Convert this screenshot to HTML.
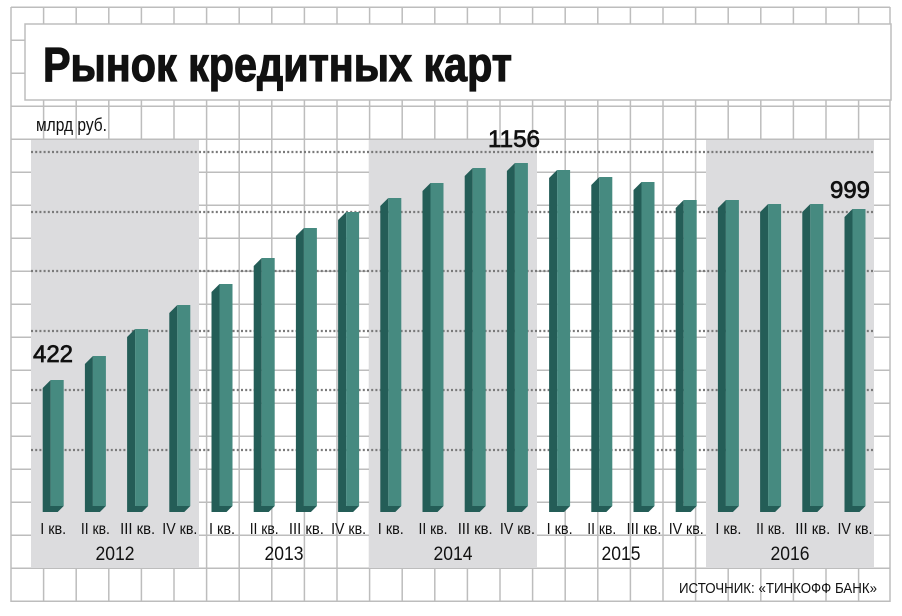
<!DOCTYPE html>
<html><head><meta charset="utf-8"><style>
html,body{margin:0;padding:0;background:#fff;}
svg{display:block;}
text{font-family:"Liberation Sans",sans-serif;fill:#111;}
.s{fill:#245d57}.f{fill:#468a80}
</style></head><body>
<svg width="902" height="616" viewBox="0 0 902 616" xmlns="http://www.w3.org/2000/svg">
<rect width="902" height="616" fill="#fff"/>
<g stroke="#bdbdbd" stroke-width="1.5">
<line x1="11" y1="7" x2="11" y2="602"/><line x1="43.6" y1="7" x2="43.6" y2="602"/><line x1="76.2" y1="7" x2="76.2" y2="602"/><line x1="108.8" y1="7" x2="108.8" y2="602"/><line x1="141.4" y1="7" x2="141.4" y2="602"/><line x1="174" y1="7" x2="174" y2="602"/><line x1="206.6" y1="7" x2="206.6" y2="602"/><line x1="239.2" y1="7" x2="239.2" y2="602"/><line x1="271.8" y1="7" x2="271.8" y2="602"/><line x1="304.4" y1="7" x2="304.4" y2="602"/><line x1="337" y1="7" x2="337" y2="602"/><line x1="369.6" y1="7" x2="369.6" y2="602"/><line x1="402.2" y1="7" x2="402.2" y2="602"/><line x1="434.8" y1="7" x2="434.8" y2="602"/><line x1="467.4" y1="7" x2="467.4" y2="602"/><line x1="500" y1="7" x2="500" y2="602"/><line x1="532.6" y1="7" x2="532.6" y2="602"/><line x1="565.2" y1="7" x2="565.2" y2="602"/><line x1="597.8" y1="7" x2="597.8" y2="602"/><line x1="630.4" y1="7" x2="630.4" y2="602"/><line x1="663" y1="7" x2="663" y2="602"/><line x1="695.6" y1="7" x2="695.6" y2="602"/><line x1="728.2" y1="7" x2="728.2" y2="602"/><line x1="760.8" y1="7" x2="760.8" y2="602"/><line x1="793.4" y1="7" x2="793.4" y2="602"/><line x1="826" y1="7" x2="826" y2="602"/><line x1="858.6" y1="7" x2="858.6" y2="602"/><line x1="890" y1="7" x2="890" y2="602"/>
<line x1="11" y1="7.3" x2="890" y2="7.3"/><line x1="11" y1="40.3" x2="890" y2="40.3"/><line x1="11" y1="73.3" x2="890" y2="73.3"/><line x1="11" y1="106.3" x2="890" y2="106.3"/><line x1="11" y1="139.3" x2="890" y2="139.3"/><line x1="11" y1="172.3" x2="890" y2="172.3"/><line x1="11" y1="205.3" x2="890" y2="205.3"/><line x1="11" y1="238.3" x2="890" y2="238.3"/><line x1="11" y1="271.3" x2="890" y2="271.3"/><line x1="11" y1="304.3" x2="890" y2="304.3"/><line x1="11" y1="337.3" x2="890" y2="337.3"/><line x1="11" y1="370.3" x2="890" y2="370.3"/><line x1="11" y1="403.3" x2="890" y2="403.3"/><line x1="11" y1="436.3" x2="890" y2="436.3"/><line x1="11" y1="469.3" x2="890" y2="469.3"/><line x1="11" y1="502.3" x2="890" y2="502.3"/><line x1="11" y1="535.3" x2="890" y2="535.3"/><line x1="11" y1="568.3" x2="890" y2="568.3"/><line x1="11" y1="601.3" x2="890" y2="601.3"/>
</g>
<rect x="25" y="24" width="866" height="76" fill="#fff" stroke="#bdbdbd" stroke-width="1.5"/>
<text x="43" y="81" font-size="48" font-weight="bold" stroke="#111" stroke-width="1.2" textLength="469" lengthAdjust="spacingAndGlyphs">Рынок кредитных карт</text>
<rect x="31" y="140" width="168" height="428" fill="#dcdcde"/>
<rect x="369" y="140" width="168" height="428" fill="#dcdcde"/>
<rect x="706" y="140" width="168" height="428" fill="#dcdcde"/>
<text x="36" y="131" font-size="18" textLength="71" lengthAdjust="spacingAndGlyphs">млрд руб.</text>
<g stroke="#7a7a7a" stroke-width="2.2" stroke-dasharray="2,2.2">
<line x1="31" y1="152" x2="874" y2="152"/><line x1="31" y1="212" x2="874" y2="212"/><line x1="31" y1="271" x2="874" y2="271"/><line x1="31" y1="331" x2="874" y2="331"/><line x1="31" y1="390" x2="874" y2="390"/><line x1="31" y1="450" x2="874" y2="450"/>
</g>
<g transform="translate(42.7,0)"><polygon class="s" points="0,388 8,380 8,506 21,506 15,512 0,512"/><rect class="f" x="8" y="380" width="13" height="126"/></g>
<g transform="translate(84.9,0)"><polygon class="s" points="0,364 8,356 8,506 21,506 15,512 0,512"/><rect class="f" x="8" y="356" width="13" height="150"/></g>
<g transform="translate(127.1,0)"><polygon class="s" points="0,337 8,329 8,506 21,506 15,512 0,512"/><rect class="f" x="8" y="329" width="13" height="177"/></g>
<g transform="translate(169.3,0)"><polygon class="s" points="0,313 8,305 8,506 21,506 15,512 0,512"/><rect class="f" x="8" y="305" width="13" height="201"/></g>
<g transform="translate(211.5,0)"><polygon class="s" points="0,292 8,284 8,506 21,506 15,512 0,512"/><rect class="f" x="8" y="284" width="13" height="222"/></g>
<g transform="translate(253.7,0)"><polygon class="s" points="0,266 8,258 8,506 21,506 15,512 0,512"/><rect class="f" x="8" y="258" width="13" height="248"/></g>
<g transform="translate(295.9,0)"><polygon class="s" points="0,236 8,228 8,506 21,506 15,512 0,512"/><rect class="f" x="8" y="228" width="13" height="278"/></g>
<g transform="translate(338.1,0)"><polygon class="s" points="0,220 8,212 8,506 21,506 15,512 0,512"/><rect class="f" x="8" y="212" width="13" height="294"/></g>
<g transform="translate(380.3,0)"><polygon class="s" points="0,206 8,198 8,506 21,506 15,512 0,512"/><rect class="f" x="8" y="198" width="13" height="308"/></g>
<g transform="translate(422.5,0)"><polygon class="s" points="0,191 8,183 8,506 21,506 15,512 0,512"/><rect class="f" x="8" y="183" width="13" height="323"/></g>
<g transform="translate(464.7,0)"><polygon class="s" points="0,176 8,168 8,506 21,506 15,512 0,512"/><rect class="f" x="8" y="168" width="13" height="338"/></g>
<g transform="translate(506.9,0)"><polygon class="s" points="0,171 8,163 8,506 21,506 15,512 0,512"/><rect class="f" x="8" y="163" width="13" height="343"/></g>
<g transform="translate(549.1,0)"><polygon class="s" points="0,178 8,170 8,506 21,506 15,512 0,512"/><rect class="f" x="8" y="170" width="13" height="336"/></g>
<g transform="translate(591.3,0)"><polygon class="s" points="0,185 8,177 8,506 21,506 15,512 0,512"/><rect class="f" x="8" y="177" width="13" height="329"/></g>
<g transform="translate(633.5,0)"><polygon class="s" points="0,190 8,182 8,506 21,506 15,512 0,512"/><rect class="f" x="8" y="182" width="13" height="324"/></g>
<g transform="translate(675.7,0)"><polygon class="s" points="0,208 8,200 8,506 21,506 15,512 0,512"/><rect class="f" x="8" y="200" width="13" height="306"/></g>
<g transform="translate(717.9,0)"><polygon class="s" points="0,208 8,200 8,506 21,506 15,512 0,512"/><rect class="f" x="8" y="200" width="13" height="306"/></g>
<g transform="translate(760.1,0)"><polygon class="s" points="0,212 8,204 8,506 21,506 15,512 0,512"/><rect class="f" x="8" y="204" width="13" height="302"/></g>
<g transform="translate(802.3,0)"><polygon class="s" points="0,212 8,204 8,506 21,506 15,512 0,512"/><rect class="f" x="8" y="204" width="13" height="302"/></g>
<g transform="translate(844.5,0)"><polygon class="s" points="0,217 8,209 8,506 21,506 15,512 0,512"/><rect class="f" x="8" y="209" width="13" height="297"/></g>
<g font-size="15.5" text-anchor="middle">
<text x="53.2" y="534" textLength="26" lengthAdjust="spacingAndGlyphs">I кв.</text>
<text x="95.4" y="534" textLength="29" lengthAdjust="spacingAndGlyphs">II кв.</text>
<text x="137.6" y="534" textLength="35" lengthAdjust="spacingAndGlyphs">III кв.</text>
<text x="179.8" y="534" textLength="35" lengthAdjust="spacingAndGlyphs">IV кв.</text>
<text x="222" y="534" textLength="26" lengthAdjust="spacingAndGlyphs">I кв.</text>
<text x="264.2" y="534" textLength="29" lengthAdjust="spacingAndGlyphs">II кв.</text>
<text x="306.4" y="534" textLength="35" lengthAdjust="spacingAndGlyphs">III кв.</text>
<text x="348.6" y="534" textLength="35" lengthAdjust="spacingAndGlyphs">IV кв.</text>
<text x="390.8" y="534" textLength="26" lengthAdjust="spacingAndGlyphs">I кв.</text>
<text x="433" y="534" textLength="29" lengthAdjust="spacingAndGlyphs">II кв.</text>
<text x="475.2" y="534" textLength="35" lengthAdjust="spacingAndGlyphs">III кв.</text>
<text x="517.4" y="534" textLength="35" lengthAdjust="spacingAndGlyphs">IV кв.</text>
<text x="559.6" y="534" textLength="26" lengthAdjust="spacingAndGlyphs">I кв.</text>
<text x="601.8" y="534" textLength="29" lengthAdjust="spacingAndGlyphs">II кв.</text>
<text x="644" y="534" textLength="35" lengthAdjust="spacingAndGlyphs">III кв.</text>
<text x="686.2" y="534" textLength="35" lengthAdjust="spacingAndGlyphs">IV кв.</text>
<text x="728.4" y="534" textLength="26" lengthAdjust="spacingAndGlyphs">I кв.</text>
<text x="770.6" y="534" textLength="29" lengthAdjust="spacingAndGlyphs">II кв.</text>
<text x="812.8" y="534" textLength="35" lengthAdjust="spacingAndGlyphs">III кв.</text>
<text x="855" y="534" textLength="35" lengthAdjust="spacingAndGlyphs">IV кв.</text>
</g>
<g font-size="19" text-anchor="middle">
<text x="115" y="560" textLength="39" lengthAdjust="spacingAndGlyphs">2012</text>
<text x="284" y="560" textLength="39" lengthAdjust="spacingAndGlyphs">2013</text>
<text x="453" y="560" textLength="39" lengthAdjust="spacingAndGlyphs">2014</text>
<text x="621" y="560" textLength="39" lengthAdjust="spacingAndGlyphs">2015</text>
<text x="790" y="560" textLength="39" lengthAdjust="spacingAndGlyphs">2016</text>
</g>
<g font-size="24" stroke="#111" stroke-width="0.7">
<text x="33" y="362" textLength="40" lengthAdjust="spacingAndGlyphs">422</text>
<text x="488" y="147" textLength="52" lengthAdjust="spacingAndGlyphs">1156</text>
<text x="830" y="198" textLength="40" lengthAdjust="spacingAndGlyphs">999</text>
</g>
<text x="679" y="593" font-size="15" textLength="198" lengthAdjust="spacingAndGlyphs">ИСТОЧНИК: «ТИНКОФФ БАНК»</text>
</svg>
</body></html>
